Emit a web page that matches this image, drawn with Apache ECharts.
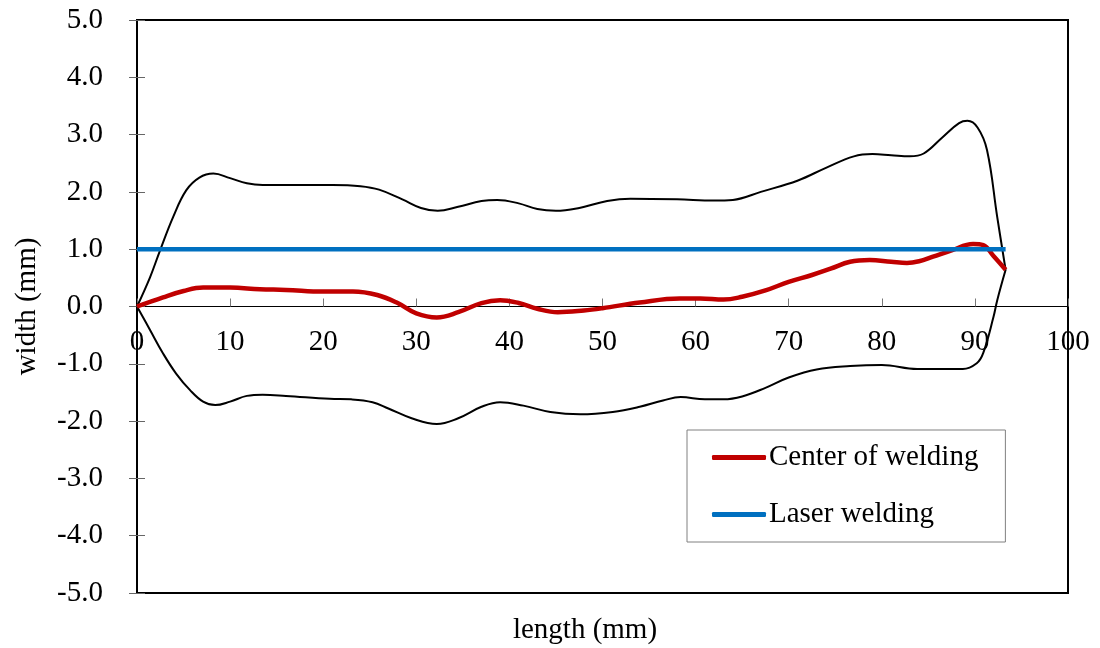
<!DOCTYPE html>
<html>
<head>
<meta charset="utf-8">
<script src="https://cdn.jsdelivr.net/npm/echarts@6/dist/echarts.min.js"></script>
<style>
  html, body { margin: 0; padding: 0; background: #fff; }
  #chart { width: 1100px; height: 648px; }
</style>
</head>
<body>
<div id="chart"></div>
<script>
// Weld bead outline (upper and lower edges), measured centre line and laser path
const upperEdge = [
  [0, 0], [1.4, 0.51], [2.5, 0.99], [3.9, 1.57], [5.3, 2.03], [6.7, 2.25], [8.2, 2.32],
  [10, 2.24], [11.8, 2.15], [13.5, 2.12], [16, 2.12], [21, 2.12], [24, 2.1], [26, 2.04],
  [28.5, 1.87], [30.5, 1.72], [32.3, 1.67], [34.5, 1.74], [37, 1.84], [38.7, 1.86],
  [41, 1.8], [43, 1.7], [45, 1.67], [47.5, 1.72], [50.5, 1.84], [53, 1.88], [58, 1.87],
  [62, 1.85], [64, 1.86], [67, 2.0], [71, 2.2], [74, 2.42], [77, 2.62], [79, 2.66],
  [81, 2.64], [83, 2.62], [84.5, 2.67], [86.5, 2.95], [88.3, 3.2], [89.2, 3.24],
  [90.3, 3.12], [91.3, 2.73], [92.4, 1.56], [93.3, 0.64]
];

const lowerEdge = [
  [0, 0], [1.4, -0.41], [2.8, -0.82], [4.2, -1.17], [5.7, -1.46], [7.1, -1.66],
  [8.4, -1.72], [10, -1.66], [11.8, -1.56], [13.5, -1.54], [16, -1.56], [20.7, -1.61],
  [23, -1.62], [25.3, -1.67], [27, -1.78], [29.5, -1.95], [32.2, -2.05], [34.5, -1.95],
  [37, -1.75], [39, -1.67], [41.5, -1.73], [44.4, -1.84], [47.6, -1.88], [51.1, -1.84],
  [54, -1.75], [56.5, -1.64], [58.4, -1.58], [61, -1.62], [63, -1.62], [65, -1.57],
  [67.5, -1.42], [70, -1.24], [73, -1.1], [76.6, -1.04], [80, -1.02], [83.8, -1.09],
  [88.7, -1.09], [90.2, -0.99], [90.9, -0.81], [92, -0.18], [92.4, 0.11], [93.3, 0.64]
];

const weldCenter = [
  [0, 0], [2.8, 0.16], [5, 0.27], [7.1, 0.33], [10, 0.33], [13.2, 0.30], [16, 0.29],
  [20, 0.26], [23.2, 0.26], [25.8, 0.20], [28, 0.06], [30, -0.12], [32.2, -0.19],
  [34.5, -0.1], [37, 0.06], [39, 0.11], [41, 0.06], [43, -0.04], [45.2, -0.1],
  [48, -0.07], [50, -0.03], [54, 0.07], [58.3, 0.14], [60.5, 0.14], [63, 0.12],
  [65, 0.17], [67.5, 0.28], [70, 0.43], [72.5, 0.55], [74.5, 0.66], [76.6, 0.78],
  [78.7, 0.81], [81, 0.78], [82.7, 0.76], [84, 0.79], [85.5, 0.87], [87.5, 0.98],
  [89.8, 1.09], [90.9, 1.07], [92, 0.88], [93.3, 0.64]
];

const laserPath = [[0, 1.0], [93.3, 1.0]];

const seriesNames = ['Center of welding', 'Laser welding'];
const xTicks = { min: 0, max: 100, step: 10 };
const yTicks = { min: -5, max: 5, step: 1 };

const FONT = '"Liberation Serif", "Times New Roman", serif';
const FS = 29;
const GRID = { left: 137, right: 32, top: 20, bottom: 55 };

const chart = echarts.init(document.getElementById('chart'), null, { renderer: 'canvas' });

chart.setOption({
  animation: false,
  backgroundColor: '#ffffff',
  grid: Object.assign({}, GRID, {
    show: true, borderColor: '#000', borderWidth: 2, backgroundColor: 'transparent'
  }),
  legend: {
    data: seriesNames,
    orient: 'vertical',
    left: 687, top: 430,
    padding: [13, 27, 13, 25],
    itemGap: 28,
    itemWidth: 54, itemHeight: 5,
    icon: 'roundRect',
    borderColor: '#808080', borderWidth: 1,
    backgroundColor: '#fff',
    textStyle: { fontFamily: FONT, fontSize: FS, color: '#000', padding: [0, 0, 0, -2] }
  },
  graphic: [{
    type: 'text',
    x: 585, y: 630,
    style: { text: 'length (mm)', font: FS + 'px ' + FONT, fill: '#000',
      align: 'center', verticalAlign: 'middle' }
  }],
  xAxis: {
    type: 'value', position: 'bottom',
    min: xTicks.min, max: xTicks.max, interval: xTicks.step,
    axisLine: { onZero: false, lineStyle: { color: '#000', width: 1 } },
    axisTick: { inside: true, length: 8, lineStyle: { color: '#777' } },
    axisLabel: { fontFamily: FONT, fontSize: FS, color: '#000', margin: 21,
      showMinLabel: true, showMaxLabel: true },
    splitLine: { show: false }
  },
  yAxis: [{
    type: 'value',
    min: yTicks.min, max: yTicks.max, interval: yTicks.step,
    name: 'width (mm)', nameLocation: 'middle', nameGap: 95,
    nameTextStyle: { fontFamily: FONT, fontSize: FS, color: '#000' },
    axisLine: { show: true, onZero: false, lineStyle: { color: '#000', width: 2 } },
    axisTick: { show: true, length: 8, lineStyle: { color: '#666' } },
    axisLabel: { fontFamily: FONT, fontSize: FS, color: '#000', margin: 34,
      formatter: v => v.toFixed(1) },
    splitLine: { show: false }
  }, {
    type: 'value', position: 'left',
    min: yTicks.min, max: yTicks.max, interval: yTicks.step,
    axisLine: { show: false, onZero: false },
    axisTick: { show: true, inside: true, length: 8, lineStyle: { color: '#666' } },
    axisLabel: { show: false },
    splitLine: { show: false }
  }],
  series: [
    {
      name: 'upper edge', type: 'line', data: upperEdge, smooth: 0.4,
      showSymbol: false, lineStyle: { color: '#000', width: 2 }, z: 3
    },
    {
      name: 'lower edge', type: 'line', data: lowerEdge, smooth: 0.4,
      showSymbol: false, lineStyle: { color: '#000', width: 2 }, z: 3
    },
    {
      name: seriesNames[0], type: 'line', data: weldCenter, smooth: 0.4,
      showSymbol: false, color: '#C00000', lineStyle: { color: '#C00000', width: 4.5 }, z: 4
    },
    {
      name: seriesNames[1], type: 'line', data: laserPath,
      showSymbol: false, color: '#0070C0', lineStyle: { color: '#0070C0', width: 4.5 }, z: 5
    }
  ]
});

// Lift the x axis (line, ticks and labels) up to the y = 0 level of the plot
const zeroY = chart.convertToPixel({ yAxisIndex: 0 }, 0);
const bottomY = chart.getHeight() - GRID.bottom;
chart.setOption({ xAxis: { offset: -(bottomY - zeroY) } });
</script>
</body>
</html>
